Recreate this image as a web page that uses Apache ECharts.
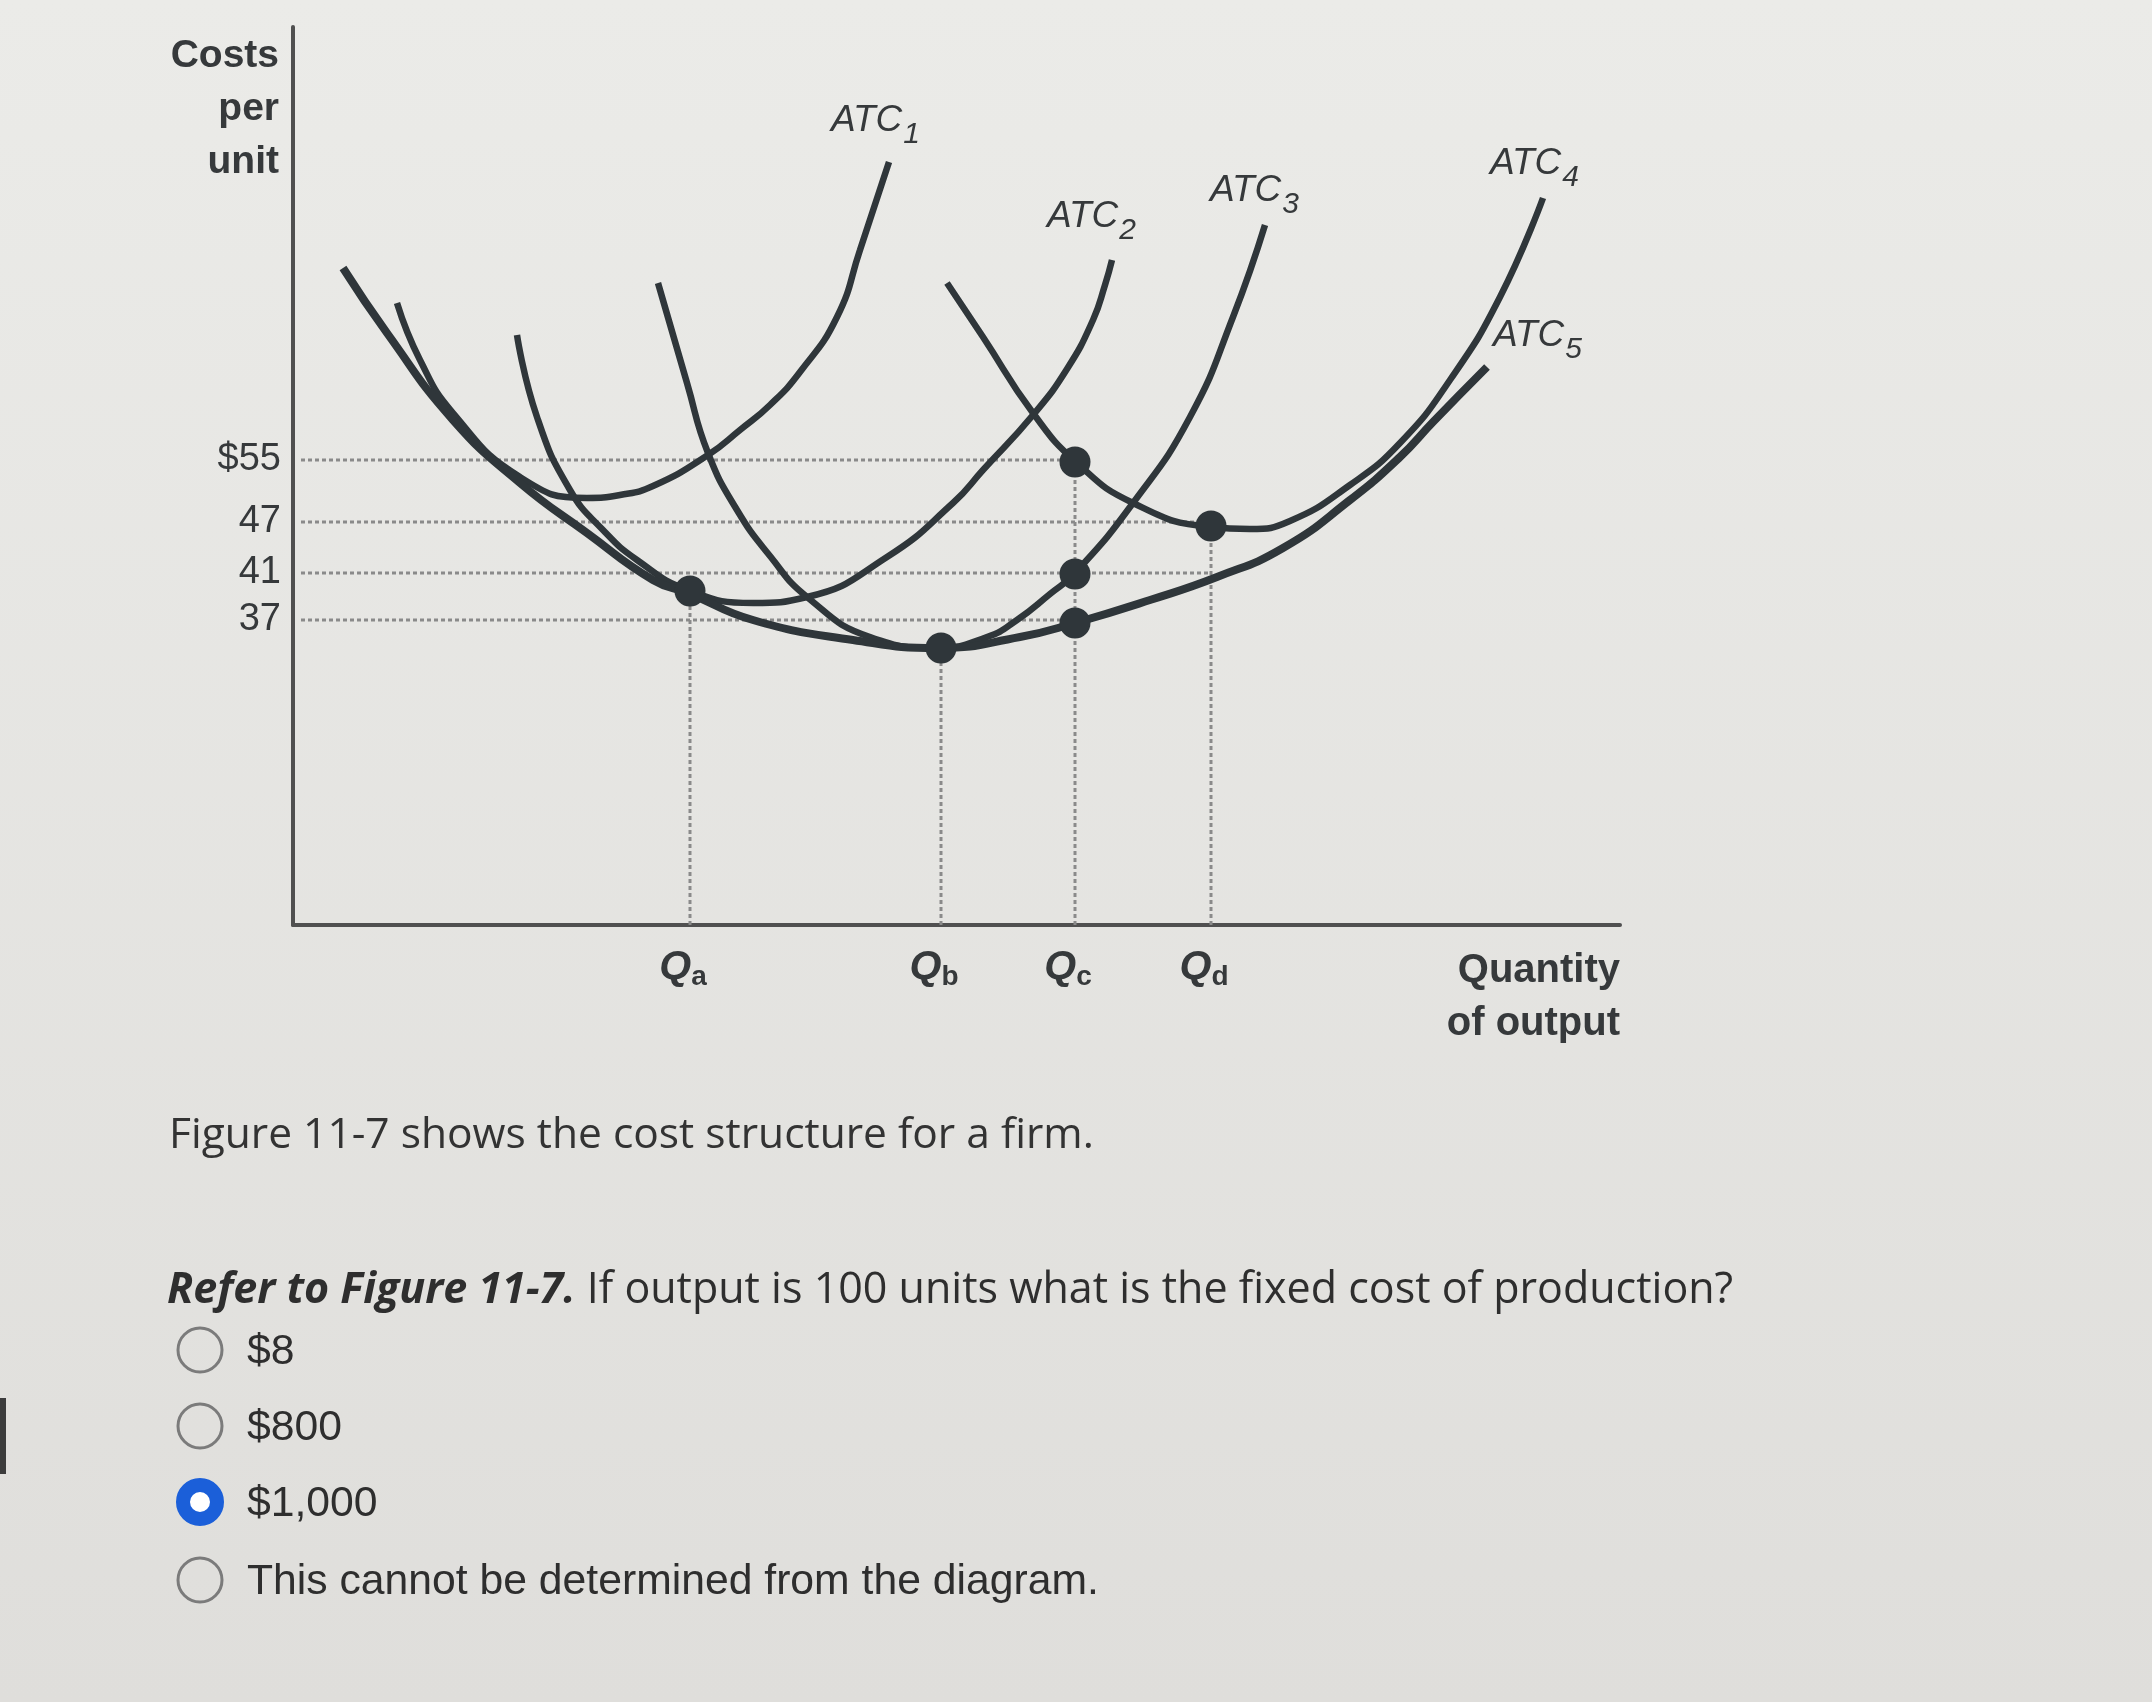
<!DOCTYPE html>
<html><head><meta charset="utf-8">
<script src="https://cdn.jsdelivr.net/npm/echarts@6/dist/echarts.min.js"></script>
<style>html,body{margin:0;padding:0;background:#e7e6e2;}#chart{width:2152px;height:1702px;}</style>
</head><body><div id="chart"></div>
<script>
// ---- data (x = quantity position, y = cost height; the figure has no numeric scale) ----
const qLabels = ['a', 'b', 'c', 'd'];
const qPositions = [397, 648, 782, 918];
const yTickLabels = ['$55', '47', '41', '37'];
const yTickPositions = [465, 403, 352, 305];
const hGuideEnds = [782, 918, 918, 782];

const atc1 = [[104,622],[127,565],[160,512],[227,448],[294,427],[327,430],[360,439],[415,470],[447,495],[477,520],[507,553],[544,608],[567,675],[596,763]];
const atc2 = [[224,590],[244,508],[277,435],[310,395],[344,365],[395,335],[460,322],[514,328],[594,368],[660,422],[690,455],[740,510],[774,556],[800,605],[812,640],[819,665]];
const atc3 = [[365,642],[394,542],[415,472],[444,415],[477,369],[514,328],[577,288],[645,277],[694,288],[724,305],[757,331],[782,352],[840,422],[897,508],[940,608],[972,700]];
const atc4 = [[654,642],[690,588],[740,512],[784,462],[840,422],[917,398],[957,396],[997,404],[1057,440],[1107,482],[1157,545],[1207,628],[1250,727]];
const atc5 = [[50,657],[94,592],[160,505],[227,442],[294,392],[360,345],[395,332],[460,305],[560,285],[645,277],[727,288],[782,302],[857,325],[924,348],[990,377],[1057,425],[1107,468],[1140,503],[1194,558]];
const curveNames = ['1', '2', '3', '4', '5'];
const markedPoints = [[397,334],[648,277],[782,463],[782,351],[782,302],[918,399]];

const introText = 'Figure 11-7 shows the cost structure for a firm.';
const questionLead = 'Refer to Figure 11-7.';
const questionText = ' If output is 100 units what is the fixed cost of production?';
const answerOptions = ['$8', '$800', '$1,000', 'This cannot be determined from the diagram.'];
const selectedOption = 2;

// ---- chart ----
const INK = '#2f363a';
const TXT = '#36393b';
const GUIDE = '#8a8a8a';
const SANS = '"Liberation Sans", Arial, sans-serif';
const OPEN = '"Open Sans", "Liberation Sans", sans-serif';

const measureCtx = document.createElement('canvas').getContext('2d');
function textWidth(font, t) { measureCtx.font = font; return measureCtx.measureText(t).width; }

const chart = echarts.init(document.getElementById('chart'));
const series = [];

yTickPositions.forEach((h, i) => {
  series.push({
    type: 'line', data: [[8, h], [hGuideEnds[i], h]], symbol: 'none', silent: true, z: 1,
    lineStyle: { color: GUIDE, width: 3, type: [4, 3] }
  });
});
qPositions.forEach((q) => {
  const top = Math.max(...markedPoints.filter(p => p[0] === q).map(p => p[1]));
  series.push({
    type: 'line', data: [[q, 0], [q, top]], symbol: 'none', silent: true, z: 1,
    lineStyle: { color: GUIDE, width: 3, type: [4, 3] }
  });
});
[atc1, atc2, atc3, atc4, atc5].forEach((d, i) => {
  series.push({
    type: 'line', name: 'ATC' + curveNames[i], data: d, symbol: 'none', smooth: 0.5, z: 3,
    lineStyle: { color: INK, width: i === 4 ? 8 : 6.5, cap: 'butt' }
  });
});
series.push({
  type: 'scatter', data: markedPoints, symbol: 'circle', symbolSize: 31, z: 5,
  itemStyle: { color: INK, opacity: 1 }
});

// curve labels: [left x, baseline y] of "ATC", subscript drawn lower
const atcLabelPos = [[831,132],[1047,228],[1210,202],[1490,175],[1493,347]];
const MAINF = 'italic 37px ' + SANS;
const SUBF = 'italic 30px ' + SANS;
const graphic = [
  { type: 'rect', z: -100, silent: true, shape: { x: 0, y: 0, width: 2152, height: 1702 },
    style: { fill: new echarts.graphic.LinearGradient(0, 0, 0, 1, [
      { offset: 0, color: '#ebebe8' }, { offset: 1, color: '#dfdedb' }]) } },
  { type: 'rect', shape: { x: 0, y: 1398, width: 6, height: 76 }, style: { fill: '#3c3c3c' } },
  { type: 'text', x: 279, y: 30, style: { text: 'Costs\nper\nunit', fill: TXT, font: 'bold 39px ' + SANS,
      textAlign: 'right', textVerticalAlign: 'top', lineHeight: 53 } },
  { type: 'text', x: 1620, y: 944, style: { text: 'Quantity\nof output', fill: TXT, font: 'bold 40px ' + SANS,
      textAlign: 'right', textVerticalAlign: 'top', lineHeight: 53 } },
  { type: 'text', x: 169, y: 1136, style: { text: introText, fill: '#333', font: '42.5px ' + OPEN,
      textAlign: 'left', textVerticalAlign: 'middle' } },
  { type: 'text', x: 167, y: 1291, style: {
      text: '{b|' + questionLead + '}{n|' + questionText + '}', fill: '#2e2e2e', textAlign: 'left', textVerticalAlign: 'middle',
      rich: { b: { fontFamily: OPEN, fontSize: 43, fontWeight: 'bold', fontStyle: 'italic', fill: '#2e2e2e' },
              n: { fontFamily: OPEN, fontSize: 43, fill: '#2e2e2e' } } } }
];
atcLabelPos.forEach((p, i) => {
  const w = textWidth(MAINF, 'ATC');
  graphic.push({ type: 'text', x: p[0], y: p[1] - 11.5, style: { text: 'ATC', fill: TXT, font: MAINF,
    textAlign: 'left', textVerticalAlign: 'middle' } });
  graphic.push({ type: 'text', x: p[0] + w + 1, y: p[1] + 12 - 9.5, style: { text: curveNames[i], fill: TXT, font: SUBF,
    textAlign: 'left', textVerticalAlign: 'middle' } });
});
const optY = [1351, 1427, 1503, 1581];
answerOptions.forEach((t, i) => {
  if (i === selectedOption) {
    graphic.push({ type: 'circle', shape: { cx: 200, cy: optY[i] - 1, r: 17 }, style: { fill: '#ffffff', stroke: '#1b5fd9', lineWidth: 14 } });
  } else {
    graphic.push({ type: 'circle', shape: { cx: 200, cy: optY[i] - 1, r: 22 }, style: { fill: 'transparent', stroke: '#7b7b7b', lineWidth: 3 } });
  }
  graphic.push({ type: 'text', x: 247, y: optY[i] + 1, style: { text: t, fill: '#2e2e2e', font: '42.7px ' + SANS,
    textAlign: 'left', textVerticalAlign: 'middle' } });
});

chart.setOption({
  backgroundColor: '#e7e6e2',
  animation: false,
  grid: { left: 293, top: 27, right: 532, bottom: 777, containLabel: false },
  xAxis: {
    type: 'value', min: 0, max: 1327,
    axisLine: { show: true, lineStyle: { color: '#505050', width: 4 } },
    axisTick: { show: false }, splitLine: { show: false },
    axisLabel: {
      customValues: qPositions, margin: 22,
      formatter: v => '{q|Q}{s|' + qLabels[qPositions.indexOf(v)] + '}',
      rich: {
        q: { fontFamily: SANS, fontSize: 41, fontWeight: 'bold', fontStyle: 'italic', color: TXT, lineHeight: 41 },
        s: { fontFamily: SANS, fontSize: 28, fontWeight: 'bold', color: TXT, lineHeight: 28, padding: [20, 14, 0, 0] }
      }
    }
  },
  yAxis: {
    type: 'value', min: 0, max: 898,
    axisLine: { show: true, lineStyle: { color: '#505050', width: 4 } },
    axisTick: { show: false }, splitLine: { show: false },
    axisLabel: {
      customValues: yTickPositions, margin: 12,
      formatter: v => yTickLabels[yTickPositions.indexOf(v)],
      fontFamily: SANS, fontSize: 38, color: TXT, padding: [0, 0, 6, 0]
    }
  },
  graphic: graphic,
  series: series
});
</script></body></html>
